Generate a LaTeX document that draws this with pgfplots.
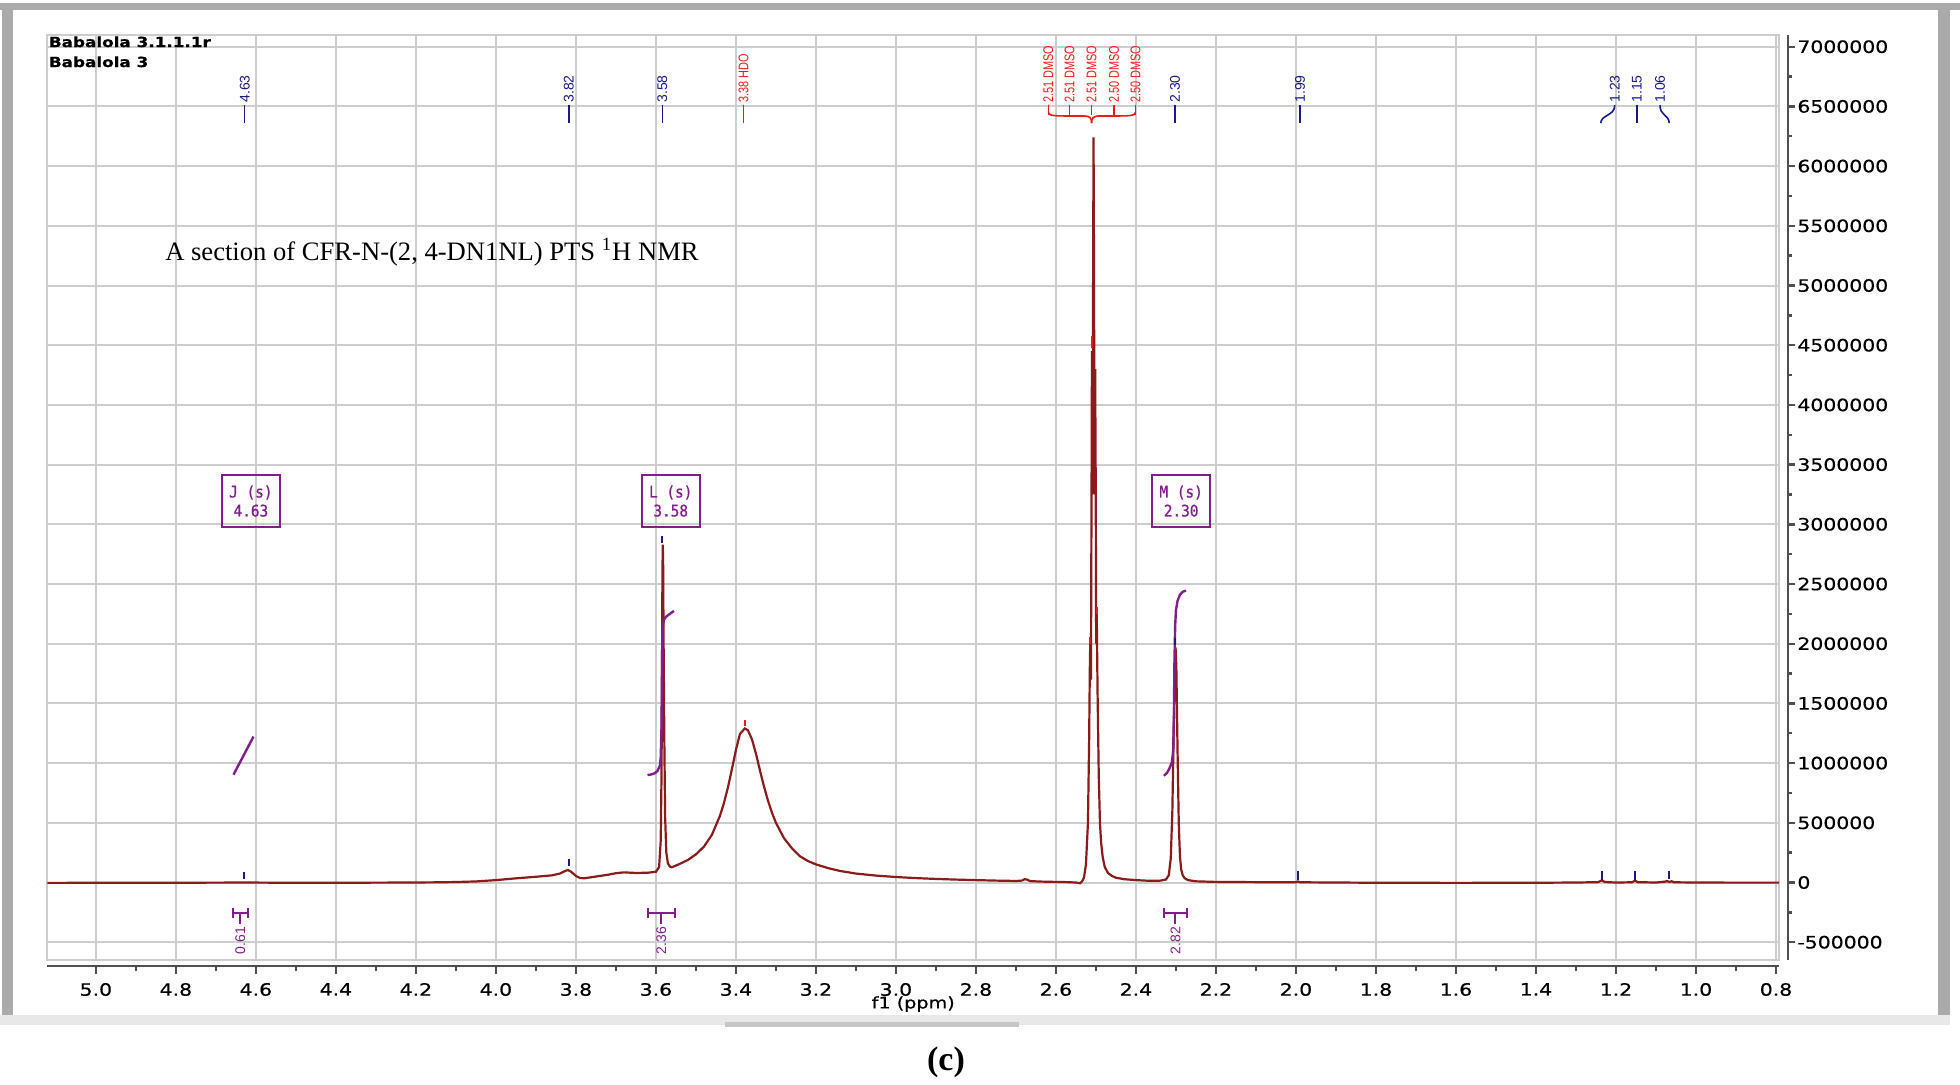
\documentclass[border=0pt]{standalone}
\usepackage{fontspec}
\usepackage{pgfplots}
\pgfplotsset{compat=1.18}
\setmainfont{Liberation Serif}
\newfontfamily\tickfont[FakeStretch=1.2,FakeBold=0.6]{DejaVu Sans}
\newfontfamily\labfont{Liberation Sans}
\newfontfamily\narrowfont[FakeStretch=0.78]{Liberation Sans}
\newfontfamily\boxfont[FakeStretch=0.9,FakeBold=0.8]{DejaVu Sans Mono}

\definecolor{spec}{RGB}{139,26,26}
\definecolor{gridgray}{RGB}{205,205,205}
\definecolor{axisgray}{RGB}{80,80,80}
\definecolor{pkblue}{RGB}{25,25,140}
\definecolor{pkred}{RGB}{240,25,25}
\definecolor{intpurple}{RGB}{130,30,140}
\definecolor{framegray}{RGB}{170,170,170}

\newcommand\lblfont{\labfont\fontsize{7}{8}\selectfont}
\newcommand\nrwfont{\narrowfont\fontsize{7}{8}\selectfont}
% peak label: x position of label, text, colour
\newcommand\plab[3]{%
  \draw[#3, line width=0.8pt] (axis cs:#1,6360000) -- (axis cs:#1,6510000);
  \node[#3, rotate=90, anchor=west, inner sep=0.5pt, font=\lblfont] at (axis cs:#1,6520000) {#2};}
% integral bracket: from, to, text
\newcommand\ilab[3]{%
  \draw[intpurple, line width=1pt] (axis cs:#1,-215000) -- (axis cs:#1,-295000)
     (axis cs:#1,-255000) -- (axis cs:#2,-255000)
     (axis cs:#2,-215000) -- (axis cs:#2,-295000);
  \draw[intpurple, line width=1pt] (axis cs:{(#1+#2)/2},-255000) -- (axis cs:{(#1+#2)/2},-350000);
  \node[intpurple, rotate=90, anchor=east, inner sep=0.5pt, font=\lblfont] at (axis cs:{(#1+#2)/2},-360000) {#3};}
% multiplet box
\newcommand\mltbox[3]{%
  \node[draw=intpurple, line width=1pt, text=intpurple, align=center, minimum width=29pt,
        minimum height=26pt, inner sep=1pt, font=\boxfont\fontsize{8}{9.5}\selectfont]
        at (axis cs:#1,3195000) {#2\\#3};}

\begin{document}
\begin{tikzpicture}
\useasboundingbox (0,0) rectangle (980pt,542pt);
% window frame
\fill[framegray] (0,537pt) rectangle (980pt,540.5pt);
\fill[framegray] (1pt,34.5pt) rectangle (6.5pt,540.5pt);
\fill[framegray] (969pt,34.5pt) rectangle (975pt,537pt);
\fill[gray!18] (0,29.5pt) rectangle (975pt,34.5pt);
\fill[gray!45] (362.5pt,28.5pt) rectangle (509.5pt,31pt);

\begin{axis}[
  at={(23.75pt,62pt)}, anchor=south west,
  scale only axis, width=865.75pt, height=462.5pt,
  x dir=reverse, xmin=0.7925, xmax=5.121,
  ymin=-649000, ymax=7098000,
  scaled x ticks=false, scaled y ticks=false,
  xtick={0.8,1.0,1.2,1.4,1.6,1.8,2.0,2.2,2.4,2.6,2.8,3.0,3.2,3.4,3.6,3.8,4.0,4.2,4.4,4.6,4.8,5.0},
  ytick={-500000,0,500000,1000000,1500000,2000000,2500000,3000000,3500000,4000000,4500000,5000000,5500000,6000000,6500000,7000000},
  xticklabels={}, yticklabels={}, major tick length=0pt,
  grid=major, major grid style={gridgray, line width=1pt},
  axis line style={gridgray, line width=1pt},
  clip=false,
]
\addplot[spec, line width=1.1pt] coordinates {
(5.121,-3000) (5.00,-2500) (4.90,-2000) (4.80,-1500) (4.70,-1000) (4.63,0) (4.55,-1500)
(4.45,-2000) (4.35,-1500) (4.25,-500) (4.15,1500) (4.10,4000) (4.05,9000) (4.00,20000)
(3.95,35000) (3.90,48000) (3.86,60000) (3.84,75000) (3.828,95000) (3.82,105000) (3.812,90000)
(3.80,55000) (3.79,38000) (3.78,35000) (3.76,45000) (3.72,65000) (3.70,78000) (3.68,85000)
(3.65,80000) (3.62,82000) (3.60,90000) (3.592,130000) (3.588,350000) (3.586,900000)
(3.585,1600000) (3.584,2400000) (3.583,2830000) (3.582,2700000) (3.581,2100000)
(3.579,1200000) (3.577,550000) (3.574,250000) (3.570,160000) (3.565,133000) (3.56,128000)
(3.55,142000) (3.54,157000) (3.52,189000) (3.50,236000) (3.48,300000) (3.46,400000)
(3.44,558000) (3.43,665000) (3.42,796000) (3.41,950000) (3.40,1110000) (3.39,1244000)
(3.378,1290000) (3.37,1275000) (3.36,1200000) (3.35,1080000) (3.34,940000) (3.33,806000)
(3.32,687000) (3.31,585000) (3.30,500000) (3.28,372000) (3.26,287000) (3.24,220000)
(3.22,180000) (3.20,152000) (3.17,121000) (3.14,97000) (3.10,75000) (3.05,58000)
(3.00,46000) (2.95,37000) (2.90,30000) (2.85,24500) (2.80,20000) (2.75,16000) (2.70,13000)
(2.685,16000) (2.678,28000) (2.672,24000) (2.665,12000) (2.64,8000) (2.60,5000) (2.57,3000)
(2.55,0) (2.54,-6000) (2.535,8000) (2.53,40000) (2.525,150000) (2.52,500000)
(2.517,1200000) (2.515,1900000) (2.514,2000000) (2.5125,1700000) (2.511,3300000)
(2.510,4450000) (2.5085,3250000) (2.507,5200000) (2.506,6240000) (2.505,5300000)
(2.5035,3250000) (2.502,4300000) (2.5005,3300000) (2.4995,2000000) (2.498,2250000)
(2.496,1600000) (2.493,900000) (2.49,500000) (2.487,330000) (2.483,210000) (2.478,130000)
(2.47,80000) (2.46,55000) (2.45,40000) (2.43,28000) (2.40,20000) (2.37,15000) (2.34,15000)
(2.325,25000) (2.318,60000) (2.313,200000) (2.309,600000) (2.306,1200000) (2.303,1800000)
(2.301,1970000) (2.299,1800000) (2.296,1100000) (2.293,500000) (2.29,220000) (2.287,110000)
(2.283,60000) (2.278,35000) (2.27,20000) (2.25,10000) (2.20,5000) (2.10,3000) (2.00,2000)
(1.995,9000) (1.99,2000) (1.90,0) (1.80,-2000) (1.60,-3000) (1.40,-2000) (1.30,0)
(1.245,3000) (1.235,18000) (1.228,4000) (1.20,0) (1.16,2000) (1.152,16000) (1.146,3000)
(1.10,0) (1.078,7000) (1.072,12000) (1.066,4000) (1.061,11000) (1.055,2000) (1.00,0)
(0.90,-1000) (0.7925,-1000)
};
% integral curves
\addplot[intpurple, line width=1.2pt] coordinates {(4.656,903000) (4.606,1222000)};
\addplot[intpurple, line width=1.2pt] coordinates {
(3.621,900000) (3.612,905000) (3.603,915000) (3.596,935000) (3.590,980000) (3.588,1050000)
(3.586,1300000) (3.585,1700000) (3.584,2050000) (3.583,2150000) (3.580,2200000)
(3.575,2225000) (3.565,2250000) (3.555,2275000)};
\addplot[intpurple, line width=1.2pt] coordinates {
(2.330,894000) (2.322,920000) (2.315,965000) (2.310,1010000) (2.307,1100000) (2.305,1400000)
(2.304,1800000) (2.302,2150000) (2.300,2280000) (2.296,2360000) (2.290,2410000)
(2.283,2435000) (2.275,2445000)};
% peak pick marks
\addplot[pkblue, line width=1pt, unbounded coords=jump] coordinates {
(4.63,30000) (4.63,90000) (4.63,nan) (3.818,140000) (3.818,195000) (3.818,nan)
(3.584,2840000) (3.584,2900000) (3.584,nan) (2.302,1990000) (2.302,2050000) (2.302,nan)
(1.995,25000) (1.995,95000) (1.995,nan) (1.235,25000) (1.235,95000) (1.235,nan)
(1.152,25000) (1.152,95000) (1.152,nan) (1.068,30000) (1.068,100000)};
\addplot[pkred, line width=1pt, unbounded coords=jump] coordinates {
(3.378,1310000) (3.378,1360000) (3.378,nan) (2.510,4480000) (2.510,4580000) (2.510,nan)
(2.514,2000000) (2.514,2060000) (2.514,nan) (2.498,2250000) (2.498,2310000)};

% peak labels
\plab{4.628}{4.63}{pkblue}
\plab{3.818}{3.82}{pkblue}
\plab{3.584}{3.58}{pkblue}
\draw[pkred, line width=0.8pt] (axis cs:3.381,6360000) -- (axis cs:3.381,6510000);
\node[pkred, rotate=90, anchor=west, inner sep=0.5pt, font=\nrwfont] at (axis cs:3.381,6520000) {3.38 HDO};
\plab{2.3025}{2.30}{pkblue}
\plab{1.99}{1.99}{pkblue}
\plab{1.148}{1.15}{pkblue}
\foreach \x/\t in {2.619/2.51, 2.566/2.51, 2.511/2.51, 2.455/2.50, 2.401/2.50}{
  \edef\tmp{\noexpand\draw[pkred, line width=0.8pt] (axis cs:\x,6430000) -- (axis cs:\x,6510000);
    \noexpand\node[pkred, rotate=90, anchor=west, inner sep=0.5pt, font=\noexpand\nrwfont] at (axis cs:\x,6520000) {\t\space DMSO};}
  \tmp}
\draw[pkred, line width=0.8pt] (axis cs:2.619,6450000) .. controls (axis cs:2.619,6420000) and (axis cs:2.60,6420000) .. (axis cs:2.57,6420000)
  -- (axis cs:2.53,6420000) .. controls (axis cs:2.514,6420000) and (axis cs:2.511,6400000) .. (axis cs:2.511,6360000);
\draw[pkred, line width=0.8pt] (axis cs:2.401,6450000) .. controls (axis cs:2.401,6420000) and (axis cs:2.42,6420000) .. (axis cs:2.45,6420000)
  -- (axis cs:2.49,6420000) .. controls (axis cs:2.508,6420000) and (axis cs:2.511,6400000) .. (axis cs:2.511,6360000);
\node[pkblue, rotate=90, anchor=west, inner sep=0.5pt, font=\lblfont] at (axis cs:1.203,6520000) {1.23};
\draw[pkblue, line width=0.8pt] (axis cs:1.203,6510000) .. controls (axis cs:1.203,6420000) and (axis cs:1.238,6430000) .. (axis cs:1.238,6360000);
\node[pkblue, rotate=90, anchor=west, inner sep=0.5pt, font=\lblfont] at (axis cs:1.09,6520000) {1.06};
\draw[pkblue, line width=0.8pt] (axis cs:1.09,6510000) .. controls (axis cs:1.09,6420000) and (axis cs:1.067,6430000) .. (axis cs:1.067,6360000);

% multiplet boxes
\mltbox{4.6125}{J (s)}{4.63}
\mltbox{3.563}{L (s)}{3.58}
\mltbox{2.287}{M (s)}{2.30}

% integral labels
\ilab{4.6575}{4.62}{0.61}
\ilab{3.62}{3.5525}{2.36}
\ilab{2.33}{2.2725}{2.82}

\node[anchor=west, inner sep=0pt, font=\fontsize{13.3}{15}\selectfont] at (axis cs:4.8275,5280000)
  {A section of CFR-N-(2, 4-DN1NL) PTS \textsuperscript{1}H NMR};
\node[anchor=north west, inner sep=0.5pt, align=left, font=\tickfont\bfseries\fontsize{7}{10}\selectfont]
  at (rel axis cs:0,1) {Babalola 3.1.1.1r\\Babalola 3};
\end{axis}

% x axis
\begin{axis}[
  at={(23.75pt,59pt)}, anchor=south west,
  scale only axis, width=865.75pt, height=10pt,
  x dir=reverse, xmin=0.7925, xmax=5.121, ymin=0, ymax=1,
  axis x line=bottom, axis y line=none,
  xtick={0.8,1.0,1.2,1.4,1.6,1.8,2.0,2.2,2.4,2.6,2.8,3.0,3.2,3.4,3.6,3.8,4.0,4.2,4.4,4.6,4.8,5.0},
  minor x tick num=1,
  tick align=outside, major tick length=4pt, minor tick length=2.5pt,
  x axis line style={-, axisgray, line width=1.3pt},
  xtick style={axisgray, line width=1.2pt},
  xticklabel style={font=\tickfont\fontsize{8.5}{10}\selectfont, yshift=-1pt},
  xticklabel={\pgfmathprintnumber[fixed,fixed zerofill,precision=1,assume math mode=true]{\tick}},
  clip=false,
]
\node[font=\tickfont\fontsize{8}{9}\selectfont, inner sep=0pt] at (rel axis cs:0.5,0) [yshift=-19pt] {f1 (ppm)};
\end{axis}

% y axis
\begin{axis}[
  at={(894pt,62pt)}, anchor=south east,
  scale only axis, width=5pt, height=462.5pt,
  xmin=0, xmax=1, ymin=-649000, ymax=7098000,
  axis y line=right, axis x line=none,
  ytick={-500000,0,500000,1000000,1500000,2000000,2500000,3000000,3500000,4000000,4500000,5000000,5500000,6000000,6500000,7000000},
  minor y tick num=1,
  tick align=outside, major tick length=3.5pt, minor tick length=2pt,
  scaled y ticks=false,
  y axis line style={-, axisgray, line width=1.3pt},
  ytick style={axisgray, line width=1.2pt},
  yticklabel style={font=\tickfont\fontsize{8.5}{10}\selectfont, inner sep=1pt},
  yticklabel={\pgfmathprintnumber[fixed,precision=0,1000 sep={},assume math mode=true]{\tick}},
]
\end{axis}

\node[font=\bfseries\fontsize{17}{19}\selectfont] at (473pt,11pt) {(c)};
\end{tikzpicture}
\end{document}
